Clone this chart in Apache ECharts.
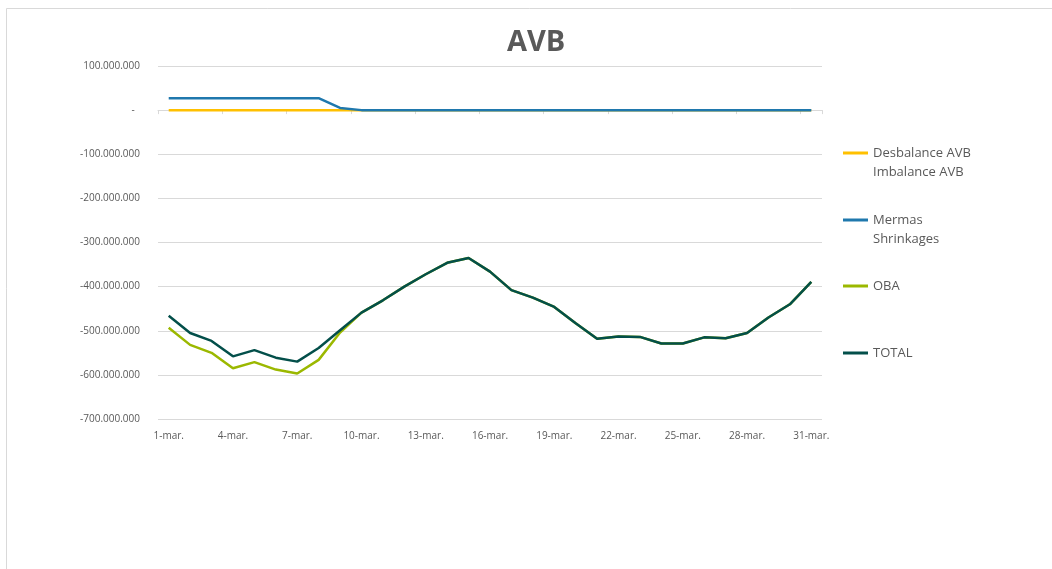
<!DOCTYPE html>
<html><head><meta charset="utf-8">
<script src="https://cdn.jsdelivr.net/npm/echarts@6/dist/echarts.min.js"></script>
<style>html,body{margin:0;padding:0;background:#fff}#c{width:1052px;height:569px}</style>
</head><body><div id="c"></div>
<script>
const categories = ['1-mar.','2-mar.','3-mar.','4-mar.','5-mar.','6-mar.','7-mar.','8-mar.','9-mar.','10-mar.',
  '11-mar.','12-mar.','13-mar.','14-mar.','15-mar.','16-mar.','17-mar.','18-mar.','19-mar.','20-mar.',
  '21-mar.','22-mar.','23-mar.','24-mar.','25-mar.','26-mar.','27-mar.','28-mar.','29-mar.','30-mar.','31-mar.'];
const seriesNames = ['Desbalance AVB\nImbalance AVB', 'Mermas\nShrinkages', 'OBA', 'TOTAL'];
const desbalance = [0,0,0,0,0,0,0,0,0,0,0,0,0,0,0,0,0,0,0,0,0,0,0,0,0,0,0,0,0,0,0];
const mermas = [27000000,27000000,27000000,27000000,27000000,27000000,27000000,27000000,5000000,0,
  0,0,0,0,0,0,0,0,0,0,0,0,0,0,0,0,0,0,0,0,0];
const oba = [-493000000,-532000000,-550000000,-585000000,-571000000,-588000000,-597000000,-566000000,-504000000,-459000000,
  -431000000,-400000000,-372000000,-346000000,-335000000,-366000000,-408000000,-425000000,-446000000,-483000000,
  -518000000,-513000000,-514000000,-529000000,-529000000,-515000000,-517000000,-505000000,-470000000,-440000000,-389000000];
const total = [-466000000,-505000000,-523000000,-558000000,-544000000,-561000000,-570000000,-539000000,-499000000,-459000000,
  -431000000,-400000000,-372000000,-346000000,-335000000,-366000000,-408000000,-425000000,-446000000,-483000000,
  -518000000,-513000000,-514000000,-529000000,-529000000,-515000000,-517000000,-505000000,-470000000,-440000000,-389000000];
const seriesData = [desbalance, mermas, oba, total];
const seriesColors = ['#FFC000', '#1F78AD', '#9BB800', '#034F4A'];

const FONT = 'Open Sans';
const TXT = '#595959';
const GRID = '#d9d9d9';

function fmt(v) {
  if (v === 0) return '-  ';
  const s = Math.abs(v).toString().replace(/\B(?=(\d{3})+(?!\d))/g, '.');
  return (v < 0 ? '-' : '') + s;
}

const legendIconCenters = [153, 220, 286, 353];
const LH = 19.5;

const chart = echarts.init(document.getElementById('c'), null, {renderer: 'canvas'});
chart.setOption({
  animation: false,
  backgroundColor: '#fff',
  title: {
    text: 'AVB', left: 507, top: 28, padding: 0,
    textStyle: {fontFamily: FONT, fontSize: 29, fontWeight: 'bold', color: TXT}
  },
  graphic: [
    {type: 'line', shape: {x1: 6.5, y1: 8.5, x2: 1052, y2: 8.5}, style: {stroke: GRID, lineWidth: 1}, silent: true},
    {type: 'line', shape: {x1: 6.5, y1: 8.5, x2: 6.5, y2: 569}, style: {stroke: GRID, lineWidth: 1}, silent: true}
  ],
  legend: seriesNames.map((n, i) => {
    const twoLine = n.indexOf('\n') >= 0;
    return {
      data: [n], orient: 'vertical', left: 843,
      top: legendIconCenters[i] - (twoLine ? LH * 1.5 : LH / 2),
      padding: 0, icon: 'rect', itemWidth: 25, itemHeight: 3, selectedMode: false,
      formatter: (name) => (twoLine ? '\n' + name : name),
      textStyle: {fontFamily: FONT, fontSize: 13, color: TXT, lineHeight: LH}
    };
  }),
  grid: {left: 158, right: 230, top: 66, bottom: 150, containLabel: false},
  xAxis: [
    {
      type: 'category', data: categories, boundaryGap: true, position: 'bottom',
      axisLine: {show: false, onZero: false}, axisTick: {show: false},
      axisLabel: {interval: 2, color: TXT, fontSize: 10, fontFamily: FONT, margin: 12},
      splitLine: {show: false}
    },
    {
      type: 'category', data: categories, boundaryGap: true, position: 'bottom',
      axisLine: {show: true, onZero: true, lineStyle: {color: GRID, width: 1}},
      axisTick: {show: true, interval: 2, length: 4, lineStyle: {color: GRID}},
      axisLabel: {show: false}, splitLine: {show: false}
    }
  ],
  yAxis: {
    type: 'value', min: -700000000, max: 100000000, interval: 100000000,
    axisLine: {show: false}, axisTick: {show: false},
    axisLabel: {formatter: fmt, color: TXT, fontSize: 10, fontFamily: FONT, margin: 18},
    splitLine: {lineStyle: {color: GRID, width: 1}}
  },
  series: seriesNames.map((n, i) => ({
    name: n, type: 'line', xAxisIndex: 0, data: seriesData[i],
    showSymbol: false, symbol: 'none', color: seriesColors[i],
    lineStyle: {width: 2.5, color: seriesColors[i]},
    emphasis: {disabled: true}, z: 2 + i
  }))
});
</script></body></html>
